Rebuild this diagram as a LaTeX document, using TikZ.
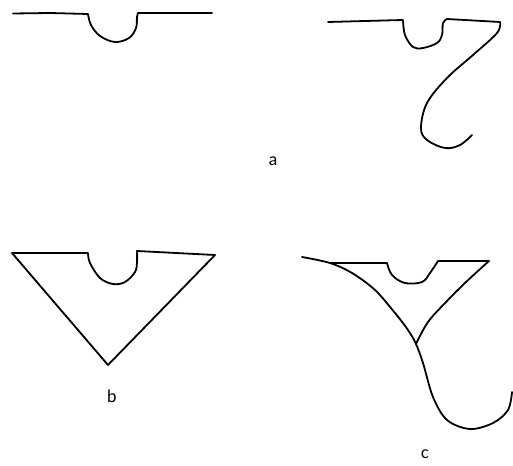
\documentclass[tikz,border=0pt]{standalone}
\usepackage{fontspec}
\setsansfont{Lato}
\usepackage{tikz}
\tikzset{
  pen/.style={line width=1.8pt, line join=round, line cap=round},
  figlabel/.style={font=\sffamily\fontsize{17}{17}\selectfont, inner sep=0pt}
}

\begin{document}
\begin{tikzpicture}[x=1pt, y=-1pt]
  \useasboundingbox (0,0) rectangle (513,465);

  % a, left: flat edge with notch
  \draw[pen] (13,13.5) -- (50,13) -- (88,14)
    -- plot[smooth, tension=0.6] coordinates {(88,14) (91,25) (100,36) (115,42)
      (129,38) (136,28) (137,17) (138,13)}
    -- (175,13) -- (212,13);

  % a, right: edge with notch and hook
  \draw[pen] (328,22) -- (365,21) -- (403,20)
    -- plot[smooth, tension=0.6] coordinates {(403,20) (405,35) (413,47) (423,48)
      (437,43) (442,35) (443,23) (447,19)}
    -- (500,22)
    -- plot[smooth, tension=0.6] coordinates {(500,22) (497,33) (473,55) (447,78)
      (427,103) (421,128) (427,140) (445,148) (460,145) (472,135)};

  % b: triangle with notch
  \draw[pen] (12,253) -- (88,253)
    -- plot[smooth, tension=0.6] coordinates {(88,253) (90,263) (100,278) (113,284)
      (125,282) (135,272) (137,262) (137,251)}
    -- (215,255) -- (108,365) -- cycle;

  % c: curved triangle with notch and tail
  \draw[pen] (330,263) -- (387,263)
    -- plot[smooth, tension=0.6] coordinates {(387,263) (392,275) (405,283)
      (422,282) (430,273) (438,261)}
    -- (489,261);
  \draw[pen] plot[smooth, tension=0.6] coordinates {(489,261) (466,282) (447,301)
      (428,322) (416,344)};
  \draw[pen] plot[smooth, tension=0.55] coordinates {(302,257) (330,263) (352,273)
      (375,290) (395,313) (408,330) (416,344) (423,363) (433,397) (447,420)
      (470,429) (493,423) (508,410) (512,392)};

  % labels
  \node[figlabel] (lbla) at (273,161) {a};
  \node[figlabel] (lblb) at (112,396) {b};
  \node[figlabel] (lblc) at (425,454) {c};
\end{tikzpicture}
\end{document}
